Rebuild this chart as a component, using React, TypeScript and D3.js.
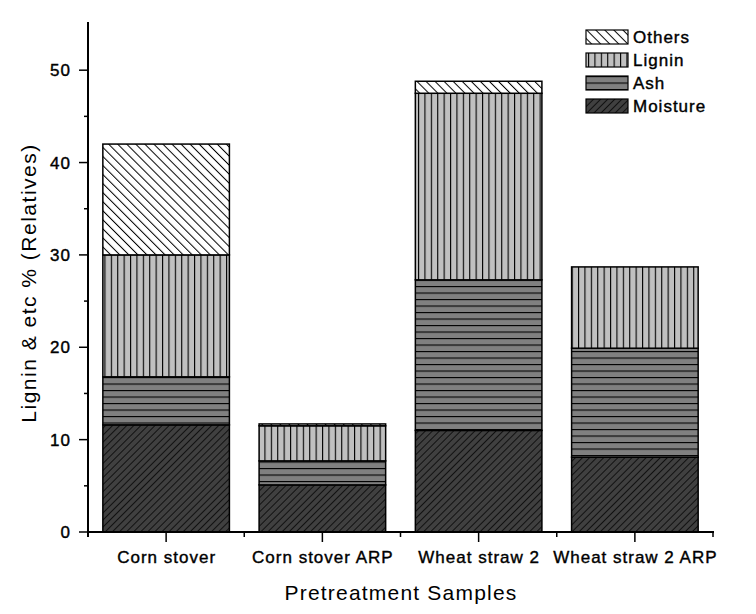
import React from "react";
import * as d3 from "d3";

const categories = ["Corn stover", "Corn stover ARP", "Wheat straw 2", "Wheat straw 2 ARP"];
const moisture = [11.6, 5.1, 11.0, 8.1];
const ash = [5.2, 2.6, 16.3, 11.8];
const lignin = [13.2, 3.8, 20.2, 8.8];
const others = [12.0, 0.2, 1.3, 0];
const seriesNames = ["Moisture", "Ash", "Lignin", "Others"];
const yTicks = [0, 10, 20, 30, 40, 50];
const yMinorTicks = [5, 15, 25, 35, 45];

const W = 756, H = 614;
const margin = { left: 88, right: 43, top: 24, bottom: 82 };

export default function App() {
  const rows = categories.map((c, i) => ({
    cat: c,
    Moisture: moisture[i],
    Ash: ash[i],
    Lignin: lignin[i],
    Others: others[i],
  }));
  const stack = d3.stack<any>().keys(seriesNames);
  const layers = stack(rows);

  const x = d3.scaleBand().domain(categories).range([margin.left, W - margin.right]).paddingInner(0.19).paddingOuter(0.095);
  const xb = d3.scaleBand().domain(categories).range([margin.left, W - margin.right]);
  const y = d3.scaleLinear().domain([0, 55]).range([H - margin.bottom, margin.top]);
  const y0 = y(0);

  const fills: Record<string, string> = {
    Moisture: "url(#pMoist)",
    Ash: "url(#pAsh)",
    Lignin: "url(#pLignin)",
    Others: "url(#pOthers)",
  };
  const legendOrder = ["Others", "Lignin", "Ash", "Moisture"];
  const font = "Arial, 'Liberation Sans', sans-serif";
  const labelStyle = { letterSpacing: "1px" } as React.CSSProperties;

  return (
    <svg width={W} height={H} style={{ position: "absolute", left: 0, top: 0, background: "#fff" }} fontFamily={font}>
      <defs>
        <pattern id="pMoist" patternUnits="userSpaceOnUse" width={5} height={5} patternTransform="rotate(45)">
          <rect width={5} height={5} fill="#404040" />
          <line x1={0.5} y1={0} x2={0.5} y2={5} stroke="#111" strokeWidth={1} />
        </pattern>
        <pattern id="pOthers" patternUnits="userSpaceOnUse" width={6.4} height={6.4} patternTransform="rotate(-45)">
          <rect width={6.4} height={6.4} fill="#fff" />
          <line x1={0.5} y1={0} x2={0.5} y2={6.4} stroke="#000" strokeWidth={1} />
        </pattern>
        <pattern id="pAsh" patternUnits="userSpaceOnUse" width={6.5} height={6.5}>
          <rect width={6.5} height={6.5} fill="#808080" />
          <line x1={0} y1={0.5} x2={6.5} y2={0.5} stroke="#000" strokeWidth={1.2} />
        </pattern>
        <pattern id="pLignin" patternUnits="userSpaceOnUse" width={6.4} height={6.4} x={2}>
          <rect width={6.4} height={6.4} fill="#c0c0c0" />
          <line x1={0.5} y1={0} x2={0.5} y2={6.4} stroke="#000" strokeWidth={1.2} />
        </pattern>
      </defs>

      {layers.map((layer) => (
        <g key={layer.key}>
          {layer.map((d, i) => {
            const h = y(d[0]) - y(d[1]);
            if (h <= 0) return null;
            return (
              <rect
                key={i}
                x={x(categories[i])}
                y={y(d[1])}
                width={x.bandwidth()}
                height={h}
                fill={fills[layer.key]}
                stroke="#000"
                strokeWidth={1.5}
              />
            );
          })}
        </g>
      ))}

      {/* Y axis */}
      <line x1={margin.left} x2={margin.left} y1={margin.top - 2} y2={y0 + 5} stroke="#000" strokeWidth={2} />
      {yTicks.map((t) => (
        <g key={t}>
          <line x1={margin.left - 9} x2={margin.left} y1={y(t)} y2={y(t)} stroke="#000" strokeWidth={1.5} />
          <text x={margin.left - 17} y={y(t)} dy="0.36em" textAnchor="end" fontSize={17} fill="#000" stroke="#000" strokeWidth={0.4} style={labelStyle}>
            {t}
          </text>
        </g>
      ))}
      {yMinorTicks.map((t) => (
        <line key={t} x1={margin.left - 4} x2={margin.left} y1={y(t)} y2={y(t)} stroke="#000" strokeWidth={1.5} />
      ))}

      {/* X axis */}
      <line x1={margin.left - 1} x2={W - margin.right + 1} y1={y0} y2={y0} stroke="#000" strokeWidth={2} />
      {categories.map((c) => {
        const cx = (xb(c) as number) + xb.bandwidth() / 2;
        return (
          <g key={c}>
            <line x1={cx} x2={cx} y1={y0} y2={y0 + 10} stroke="#000" strokeWidth={1.5} />
            <text x={cx + 0.5} y={y0 + 31} textAnchor="middle" fontSize={17} fill="#000" stroke="#000" strokeWidth={0.4} style={labelStyle}>
              {c}
            </text>
          </g>
        );
      })}
      {categories.map((c, i) => {
        const bx = (xb(c) as number) + xb.bandwidth();
        return <line key={"m" + i} x1={bx} x2={bx} y1={y0} y2={y0 + 5} stroke="#000" strokeWidth={1.5} />;
      })}

      {/* Axis titles */}
      <text x={401} y={600} textAnchor="middle" fontSize={21} fill="#000" style={{ letterSpacing: "1.2px" }}>
        Pretreatment Samples
      </text>
      <text transform={`translate(36, 283) rotate(-90)`} textAnchor="middle" fontSize={21} fill="#000" style={{ letterSpacing: "1.5px" }}>
        Lignin &amp; etc % (Relatives)
      </text>

      {/* Legend */}
      {legendOrder.map((k, i) => (
        <g key={k} transform={`translate(586, ${30 + i * 23})`}>
          <rect width={42} height={14} fill={fills[k]} stroke="#000" strokeWidth={1.2} />
          <text x={47} y={7} dy="0.36em" fontSize={17} fill="#000" stroke="#000" strokeWidth={0.4} style={labelStyle}>
            {k}
          </text>
        </g>
      ))}
    </svg>
  );
}
